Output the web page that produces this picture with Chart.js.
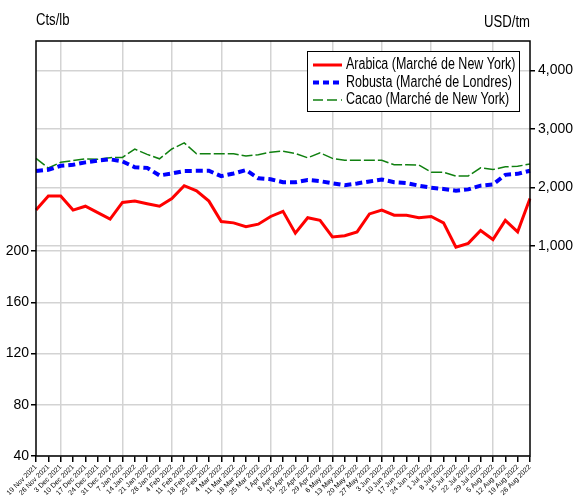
<!DOCTYPE html>
<html lang="fr">
<head>
  <meta charset="UTF-8" />
  <title>Arabica, Robusta, Cacao</title>
  <script src="https://cdn.jsdelivr.net/npm/chart.js"></script>
  <style>
    html, body { margin: 0; padding: 0; background: #fff; }
    #wrap { width: 576px; height: 500px; }
  </style>
</head>
<body>
  <div id="wrap"><canvas id="prixChart"></canvas></div>

  <script>
    // semaines (vendredi)
    const semaines = [
      '19 Nov 2021', '26 Nov 2021', '3 Dec 2021', '10 Dec 2021', '17 Dec 2021', '24 Dec 2021', '31 Dec 2021',
      '7 Jan 2022', '14 Jan 2022', '21 Jan 2022', '28 Jan 2022', '4 Feb 2022', '11 Feb 2022', '18 Feb 2022',
      '25 Feb 2022', '4 Mar 2022', '11 Mar 2022', '18 Mar 2022', '25 Mar 2022', '1 Apr 2022', '8 Apr 2022',
      '15 Apr 2022', '22 Apr 2022', '29 Apr 2022', '6 May 2022', '13 May 2022', '20 May 2022', '27 May 2022',
      '3 Jun 2022', '10 Jun 2022', '17 Jun 2022', '24 Jun 2022', '1 Jul 2022', '8 Jul 2022', '15 Jul 2022',
      '22 Jul 2022', '29 Jul 2022', '5 Aug 2022', '12 Aug 2022', '19 Aug 2022', '26 Aug 2022'
    ];
    // premiere semaine de chaque mois -> ligne verticale
    const debutMois = [2, 7, 11, 15, 19, 24, 28, 32, 37];

    // Cts/lb
    const arabica = [
      232, 243, 243, 232, 235, 230, 225, 238, 239, 237, 235, 241, 251, 247,
      239, 223, 222, 219, 221, 227, 231, 214, 226, 224, 211, 212, 215, 229,
      232, 228, 228, 226, 227, 222, 203, 206, 216, 209, 224, 215, 241
    ];
    // USD/tm
    const robusta = [
      2282, 2304, 2372, 2389, 2430, 2460, 2482, 2447, 2347, 2336, 2206, 2240, 2282, 2285,
      2287, 2194, 2240, 2299, 2158, 2141, 2092, 2090, 2129, 2109, 2073, 2041, 2070, 2104,
      2138, 2090, 2075, 2032, 1997, 1976, 1946, 1968, 2032, 2053, 2217, 2234, 2287
    ];
    const cacao = [
      2498, 2333, 2431, 2460, 2489, 2482, 2511, 2515, 2656, 2567, 2491, 2659, 2763, 2576,
      2576, 2576, 2576, 2537, 2562, 2605, 2622, 2583, 2508, 2593, 2498, 2465, 2465, 2465,
      2465, 2389, 2389, 2384, 2262, 2262, 2197, 2197, 2338, 2307, 2355, 2362, 2404
    ];

    const ticksGauche = [40, 80, 120, 160, 200];
    const ticksDroite = [1000, 2000, 3000, 4000];
    const titreGauche = 'Cts/lb';
    const titreDroite = 'USD/tm';

    const FONT = "'Liberation Sans', Arial, sans-serif";
    const GRID = '#d3d3d3';

    // texte etroit (police type Arial Narrow)
    function texteEtroit(c, txt, x, y, align, sx) {
      c.save();
      c.translate(x, y);
      c.scale(sx, 1);
      c.textAlign = align;
      c.fillText(txt, 0, 0);
      c.restore();
    }

    // cadre, titres des axes et legende dans la zone du graphique
    const decor = {
      id: 'decor',
      afterDraw(chart) {
        const c = chart.ctx;
        const a = chart.chartArea;
        c.save();
        c.strokeStyle = '#000';
        c.lineWidth = 1.5;
        c.strokeRect(a.left, a.top, a.right - a.left, a.bottom - a.top);

        c.fillStyle = '#000';
        c.font = '16px ' + FONT;
        c.textBaseline = 'middle';
        texteEtroit(c, titreGauche, a.left, 21, 'left', 0.82);
        texteEtroit(c, titreDroite, a.right, 23, 'right', 0.82);

        const lx = a.right - 223, ly = a.top + 10, lw = 212, lh = 60;
        c.fillStyle = '#fff';
        c.fillRect(lx, ly, lw, lh);
        c.lineWidth = 1;
        c.strokeRect(lx + 0.5, ly + 0.5, lw, lh);
        chart.data.datasets.forEach((ds, i) => {
          const y = ly + 14 + i * 17.5;
          c.strokeStyle = ds.borderColor;
          c.lineWidth = ds.borderWidth;
          c.setLineDash(ds.legendDash || []);
          c.beginPath();
          c.moveTo(lx + 6, y);
          c.lineTo(lx + 35, y);
          c.stroke();
          c.setLineDash([]);
          c.fillStyle = '#000';
          texteEtroit(c, ds.label, lx + 39, y, 'left', 0.78);
        });
        c.restore();
      }
    };

    const ctx = document.getElementById("prixChart").getContext("2d");

    new Chart(ctx, {
      type: 'line',
      data: {
        labels: semaines,
        datasets: [
          {
            label: 'Arabica (Marché de New York)',
            data: arabica,
            borderColor: '#ff0000',
            borderWidth: 3,
            yAxisID: 'y',
          },
          {
            label: 'Robusta (Marché de Londres)',
            data: robusta,
            borderColor: '#0000ff',
            borderWidth: 4,
            borderDash: [7, 4],
            legendDash: [6, 4],
            yAxisID: 'y2',
          },
          {
            label: 'Cacao (Marché de New York)',
            data: cacao,
            borderColor: '#108010',
            borderWidth: 1.5,
            borderDash: [11, 3],
            legendDash: [10, 4],
            yAxisID: 'y2',
          }
        ]
      },
      options: {
        responsive: true,
        maintainAspectRatio: false,
        animation: false,
        layout: { padding: { top: 41, left: 0, right: 0, bottom: 0 } },
        elements: {
          point: { radius: 0 },
          line: { tension: 0, fill: false, borderCapStyle: 'butt' }
        },
        plugins: {
          legend: { display: false },
          tooltip: { enabled: false }
        },
        scales: {
          x: {
            offset: false,
            grid: {
              color: c => debutMois.includes(c.index) ? GRID : 'rgba(0,0,0,0)',
              lineWidth: 1.5,
              tickColor: '#000',
              tickLength: 6,
            },
            border: { display: false },
            ticks: {
              autoSkip: false,
              minRotation: 45,
              maxRotation: 45,
              padding: 1,
              color: '#000',
              font: { family: FONT, size: 7 }
            },
            afterFit: s => { s.height = 44; }
          },
          y: {
            position: 'left',
            min: 40,
            max: 364,
            afterBuildTicks: s => { s.ticks = ticksGauche.map(v => ({ value: v })); },
            grid: { color: GRID, lineWidth: 1.5, tickColor: '#000', tickLength: 5 },
            border: { display: false },
            ticks: { color: '#000', padding: 2, font: { family: FONT, size: 14 } },
            afterFit: s => { s.width = 36; }
          },
          y2: {
            position: 'right',
            min: -2590,
            max: 4505,
            afterBuildTicks: s => { s.ticks = ticksDroite.map(v => ({ value: v })); },
            grid: { color: GRID, lineWidth: 1.5, tickColor: '#000', tickLength: 5 },
            border: { display: false },
            ticks: {
              color: '#000',
              padding: 3,
              font: { family: FONT, size: 14 },
              callback: v => v.toLocaleString('en-US')
            },
            afterFit: s => { s.width = 46; }
          }
        }
      },
      plugins: [decor]
    });
  </script>
</body>
</html>
